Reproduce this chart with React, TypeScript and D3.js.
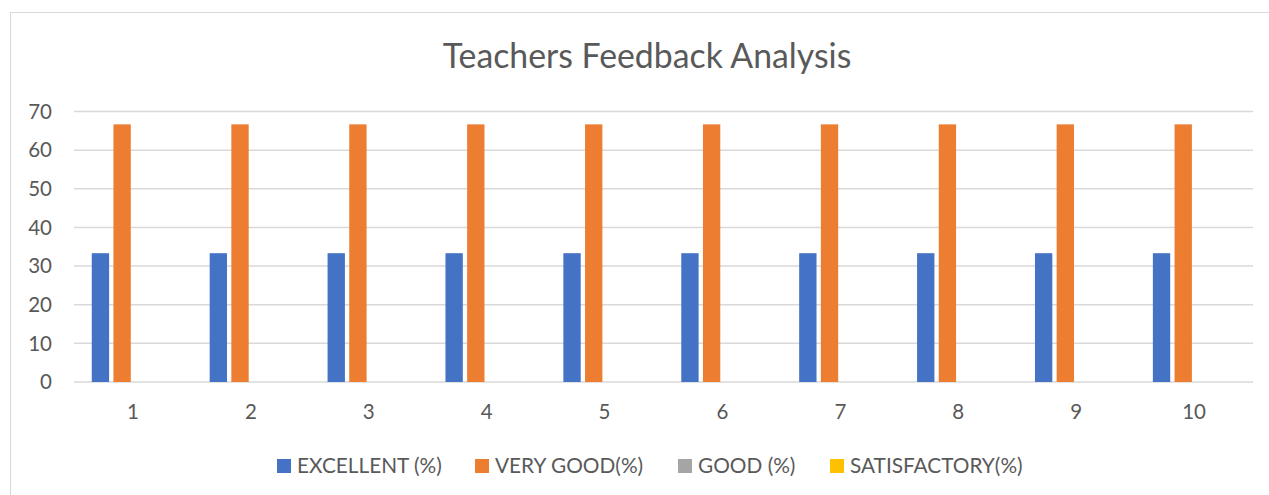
import React from "react";
import * as d3 from "d3";

const categories = ["1", "2", "3", "4", "5", "6", "7", "8", "9", "10"];
const seriesNames = ["EXCELLENT (%)", "VERY GOOD(%)", "GOOD (%)", "SATISFACTORY(%)"];
const excellent = [33.33, 33.33, 33.33, 33.33, 33.33, 33.33, 33.33, 33.33, 33.33, 33.33];
const veryGood = [66.67, 66.67, 66.67, 66.67, 66.67, 66.67, 66.67, 66.67, 66.67, 66.67];
const good = [0, 0, 0, 0, 0, 0, 0, 0, 0, 0];
const satisfactory = [0, 0, 0, 0, 0, 0, 0, 0, 0, 0];
const yTicks = [0, 10, 20, 30, 40, 50, 60, 70];
const colors = ["#4472C4", "#ED7D31", "#A5A5A5", "#FFC000"];
const title = "Teachers Feedback Analysis";

const W = 1269;
const H = 495;
const FONT = "Lato, 'Noto Sans', sans-serif";
const TEXT = "#595959";

export default function App() {
  const seriesValues = [excellent, veryGood, good, satisfactory];
  const x = d3.scaleBand<string>().domain(categories).range([74, 1253]).padding(0);
  const xs = d3
    .scaleBand<string>()
    .domain(seriesNames)
    .range([0, x.bandwidth()])
    .paddingInner(0.2)
    .paddingOuter(0.82);
  const y = d3.scaleLinear().domain([0, 70]).range([382, 111.5]);
  const legendX = [277, 475, 678, 830];

  return (
    <svg
      width={W}
      height={H}
      style={{ position: "absolute", left: 0, top: 0, background: "#fff" }}
      fontFamily={FONT}
    >
      <rect x={0} y={0} width={W} height={H} fill="#fff" />
      <rect x={10.5} y={12.5} width={W + 20} height={H + 20} fill="none" stroke="#D9D9D9" strokeWidth={1} />
      <text x={647} y={68} textAnchor="middle" fontSize={33.8} fill={TEXT}>
        {title}
      </text>
      {yTicks.map((t) => (
        <g key={t}>
          <line x1={74} x2={1253} y1={y(t)} y2={y(t)} stroke="#D9D9D9" strokeWidth={1.5} />
          <text x={52} y={y(t)} dy="0.35em" textAnchor="end" fontSize={20.5} fill={TEXT}>
            {t}
          </text>
        </g>
      ))}
      {categories.map((c, i) => (
        <g key={c} transform={`translate(${x(c)},0)`}>
          {seriesNames.map((s, j) => {
            const v = seriesValues[j][i];
            return (
              <rect
                key={s}
                x={xs(s)}
                y={y(v)}
                width={xs.bandwidth()}
                height={y(0) - y(v)}
                fill={colors[j]}
              />
            );
          })}
          <text x={x.bandwidth() / 2} y={412} textAnchor="middle" dy="0.35em" fontSize={20.5} fill={TEXT}>
            {c}
          </text>
        </g>
      ))}
      {seriesNames.map((s, j) => (
        <g key={s} transform={`translate(${legendX[j]},459)`}>
          <rect x={0} y={0} width={14} height={14} fill={colors[j]} />
          <text x={20} y={7} dy="0.35em" fontSize={20.8} fill={TEXT}>
            {s}
          </text>
        </g>
      ))}
    </svg>
  );
}
